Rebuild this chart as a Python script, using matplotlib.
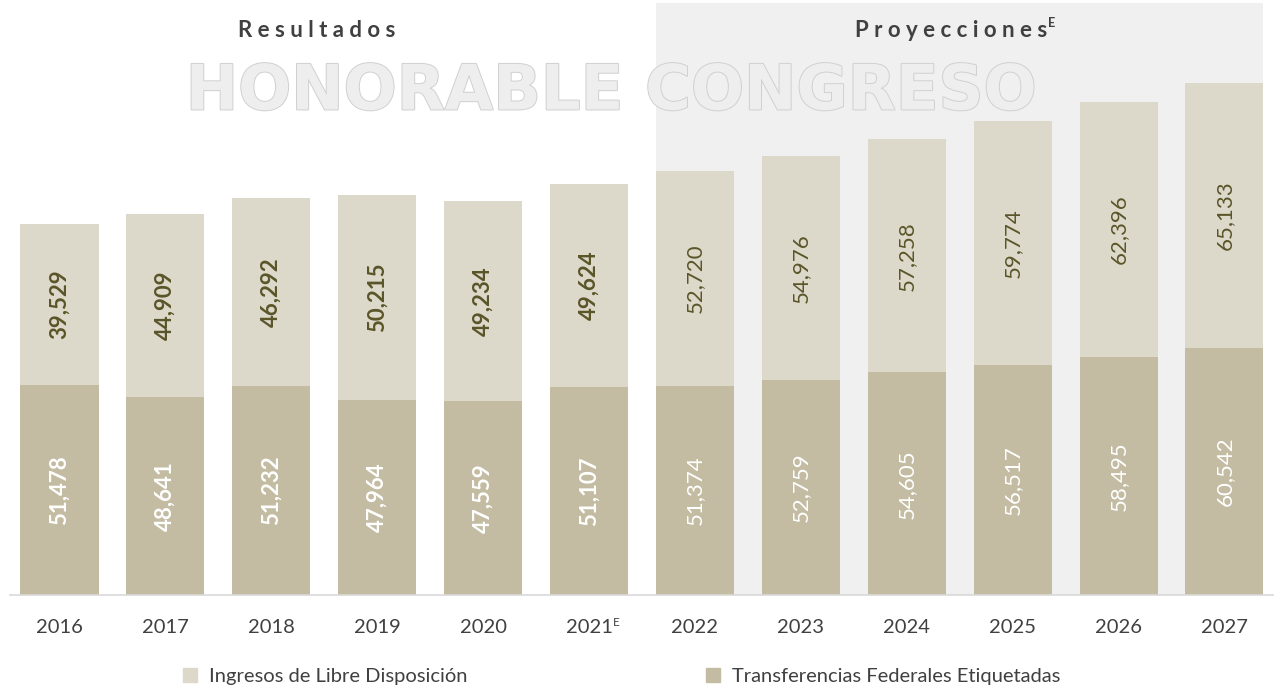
import matplotlib
matplotlib.use("Agg")
import matplotlib.pyplot as plt
import matplotlib.patheffects as pe
from matplotlib.patches import Patch

# Data (millones de pesos)
years = ["2016", "2017", "2018", "2019", "2020", "2021",
         "2022", "2023", "2024", "2025", "2026", "2027"]
estimated_year = "2021"  # marked with a superscript E
transferencias = [51478, 48641, 51232, 47964, 47559, 51107,
                  51374, 52759, 54605, 56517, 58495, 60542]
libre_disposicion = [39529, 44909, 46292, 50215, 49234, 49624,
                     52720, 54976, 57258, 59774, 62396, 65133]
n_resultados = 6  # first six years are actual results, the rest projections

FONT = ["Lato", "DejaVu Sans"]
plt.rcParams["font.family"] = FONT

c_top = "#dcd9cb"
c_bottom = "#c3bca2"
c_shade = "#f0f0f1"
c_label_top = "#5a5528"
c_text = "#404040"

fig = plt.figure(figsize=(12.74, 6.90), dpi=100)
ax = fig.add_axes([0.0, 0.1377, 1.0, 0.8623])

x = list(range(len(years)))
width = 0.737

ax.set_xlim(-0.562, 11.468)
ax.set_ylim(0, 146000)

# projection background
ax.axvspan(n_resultados - width / 2, len(years) - 1 + width / 2,
           ymin=0, ymax=0.995, color=c_shade, zorder=0, lw=0)

# watermark lettering behind the bars
fig.text(0.480, 0.866, "HONORABLE CONGRESO", fontsize=45, fontweight="bold",
         family="DejaVu Sans", ha="center", va="center", color="#eeeeee",
         zorder=1,
         path_effects=[pe.Stroke(linewidth=1.4, foreground="#d0d0d0"), pe.Normal()])

b1 = ax.bar(x, transferencias, width, color=c_bottom, zorder=2, lw=0)
b2 = ax.bar(x, libre_disposicion, width, bottom=transferencias,
            color=c_top, zorder=2, lw=0)

for i in x:
    bold = i < n_resultados
    fw = "bold" if bold else "normal"
    t = transferencias[i]
    l = libre_disposicion[i]
    ax.text(i, t / 2, f"{t:,}", rotation=90, ha="center", va="center",
            fontsize=16, fontweight=fw, color="white", zorder=3)
    ax.text(i, t + l / 2, f"{l:,}", rotation=90, ha="center", va="center",
            fontsize=16, fontweight=fw, color=c_label_top, zorder=3)

# section headings
xt = ax.get_xaxis_transform()
ax.text(2.43, 0.948, "R e s u l t a d o s", transform=xt,
        ha="center", va="center", fontsize=16, fontweight="bold", color=c_text)
ax.text(8.42, 0.948, "P r o y e c c i o n e s", transform=xt,
        ha="center", va="center", fontsize=16, fontweight="bold", color=c_text)
ax.text(9.335, 0.962, "E", transform=xt, ha="left", va="center",
        fontsize=9, fontweight="bold", color=c_text)

ax.set_xticks(x)
ax.set_xticklabels(years, fontsize=14.5, color=c_text)
ax.tick_params(axis="x", length=0, pad=17)
ax.set_yticks([])

# superscript E on the estimated year
ei = years.index(estimated_year)
ax.annotate("E", xy=(ei, 0), xycoords=("data", "axes fraction"),
            xytext=(17, -20), textcoords="offset points",
            ha="left", va="center", fontsize=8.5, color=c_text)

for s in ["top", "right", "left"]:
    ax.spines[s].set_visible(False)
ax.spines["bottom"].set_color("#d9d9d9")
ax.spines["bottom"].set_linewidth(1.2)
ax.spines["bottom"].set_bounds(-0.47, 11.468)
ax.set_facecolor("none")

handles = [Patch(color=c_top, label="Ingresos de Libre Disposición"),
           Patch(color=c_bottom, label="Transferencias Federales Etiquetadas")]
fig.legend(handles=handles, loc="center", bbox_to_anchor=(0.488, 0.019),
           ncol=2, frameon=False, fontsize=14.5, handlelength=0.7,
           handleheight=0.7, handletextpad=0.6, columnspacing=11.8,
           labelcolor=c_text)

fig.savefig("out.png", dpi=100)
